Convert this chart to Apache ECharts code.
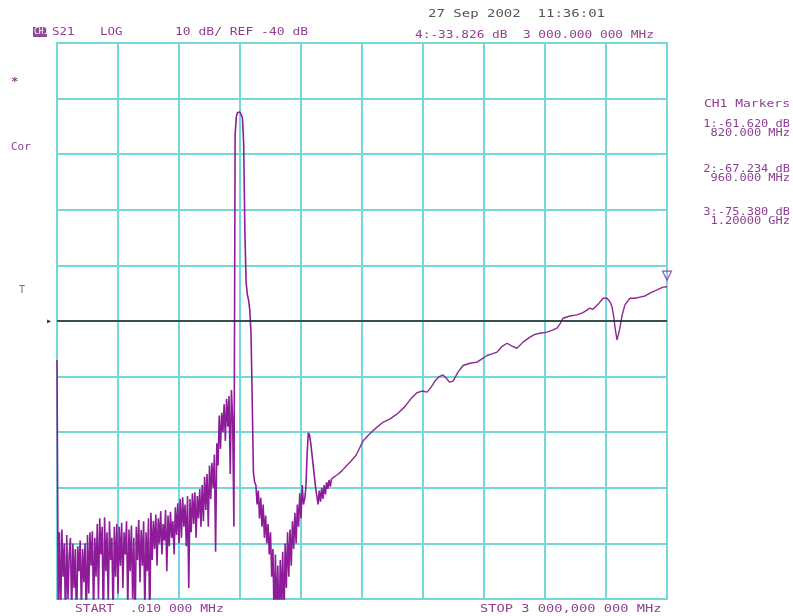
<!DOCTYPE html>
<html>
<head>
<meta charset="utf-8">
<script src="https://cdn.jsdelivr.net/npm/echarts@6/dist/echarts.min.js"></script>
<style>html,body{margin:0;padding:0;background:#fff;}#c{width:793px;height:616px;}</style>
</head>
<body>
<div id="c"></div>
<script>
// Swept trace S21 (LOG MAG), frequency in MHz, magnitude in dB
const freqNoise = [
  0.01,6,12,18,24,30,36,42,48,54,
  60,66,72,78,84,90,96,102,108,114,
  120,126,132,138,144,150,156,162,168,174,
  180,186,192,198,204,210,216,222,228,234,
  240,246,252,258,264,270,276,282,288,294,
  300,306,312,318,324,330,336,342,348,354,
  360,366,372,378,384,390,396,402,408,414,
  420,426,432,438,444,450,456,462,468,474,
  480,486,492,498,504,510,516,522,528,534,
  540,546,552,558,564,570,576,582,588,594,
  600,606,612,618,624,630,636,642,648,654,
  660,666,672,678,684,690,696,702,708,714,
  720,726,732,738,744,750,756,762,768,774,
  780,786,792,798,804,810,816,822,828,834,
  840,846,852,858,864,870,876,882,888,894,
  900,906,912,918,924,930,936,942,948,954,
  960,966,972,978,984,990,996,1002,1008,1014,
  1020,1026,1032,1038,1044,1050,1056,1062,1068,1074,
  1080,1086,1092,1098,1104,1110,1116,1122,1128,1134,
  1140,1146,1152,1158,1164,1170,1176,1182,1188,1194,
  1200,1206,1212,1218,1224,1230,1236,1242,1248,1254,
  1260,1266,1272,1278,1284,1290,1296,1302,1308,1314,
  1320,1326,1332,1338,1344,1350
];
const dbNoise = [
  -47,-92,-78,-94,-77.5,-86,-80,-95,-78.5,-90,
  -82,-79,-93,-80,-88,-81,-96,-80.5,-85,-79.5,
  -92,-81,-87,-80,-95,-78.5,-89,-78,-84,-77.8,
  -93,-79,-86,-76.5,-90,-75.5,-82,-77,-96,-75.3,
  -85,-78,-91,-76,-83,-79,-94,-77,-86,-76.5,
  -89,-77,-84,-76.3,-88,-78,-82,-76,-92,-77.5,
  -85,-76.8,-90,-79,-96,-77,-83,-75.8,-87,-77.6,
  -84,-76,-93,-78,-85,-75.5,-96,-74.5,-83,-76,
  -81,-74.8,-84,-75.5,-80,-74.2,-82,-76.5,-79.5,-74,
  -85,-75,-80.5,-74.3,-79,-76,-82,-73.5,-78.5,-72.8,
  -80,-72,-79,-71.7,-77,-73,-80.5,-71.5,-88,-72,
  -78,-71,-76.5,-70.8,-79,-71.5,-75.5,-70.2,-77,-69.5,
  -76,-68,-74,-67.5,-77,-66,-72,-65.5,-70,-64,
  -81.5,-62,-66,-57,-63,-56.5,-60,-55,-61.6,-54,
  -59,-53.5,-67.5,-52.4,-58,-77,-6.5,-3.2,-2.5,-2.3,
  -2.4,-2.6,-3.5,-8,-24,-33,-35.2,-36.2,-38,-42,
  -54,-67.2,-69,-69.5,-73,-70.5,-75.5,-71.8,-77,-73,
  -79,-75,-80,-76.5,-82,-78,-86,-81,-95,-82,
  -93,-84,-96,-83,-91,-81.5,-95,-80,-88,-78,
  -86,-77.5,-84,-76,-81,-74.5,-80,-73,-77,-71,
  -75.5,-69.5,-73,-72,-70,-64,-60.1,-60.5,-62,-64,
  -66,-68,-70,-71.5,-73,-70.5,-72.5,-70,-72,-69.5,
  -71.2,-69,-70.2,-68.6,-69.8,-68.4
];
const freqSmooth = [
  1350,1357,1380,1400,1425,1441,1470,1505,1530,1564,1600,
  1638,1670,1711,1740,1770,1795,1820,1840,1859,1880,
  1898,1915,1930,1948,1972,1997,2031,2066,2090,2115,
  2140,2164,2188,2213,2238,2262,2292,2326,2350,2375,
  2410,2440,2459,2474,2488,2523,2557,2587,2621,2636,
  2661,2685,2705,2720,2730,2739,2744,2754,2764,2769,
  2779,2793,2818,2843,2867,2892,2916,2951,2980,3000
];
const dbSmooth = [
  -68.4,-68.6,-67.6,-67.0,-66.0,-65.4,-64.2,-61.6,-60.6,-59.4,-58.3,
  -57.6,-56.8,-55.4,-54.0,-52.9,-52.6,-52.8,-51.9,-50.8,-50.0,
  -49.7,-50.3,-51.0,-50.8,-49.2,-48.0,-47.6,-47.4,-46.8,-46.2,
  -45.9,-45.6,-44.6,-44.0,-44.5,-44.9,-43.8,-42.9,-42.4,-42.2,
  -42.0,-41.6,-41.3,-40.5,-39.5,-39.1,-38.9,-38.5,-37.7,-37.9,
  -37.0,-35.9,-35.9,-36.6,-37.5,-39.5,-41.1,-43.4,-42.0,-41.1,
  -39.0,-37.1,-35.9,-35.9,-35.7,-35.5,-35.0,-34.4,-33.9,-33.83
];
const activeMarker = [[3000, -33.83]];
const refLevel = -40;
const xMin = 0, xMax = 3000, xStep = 300;
const yMin = -90, yMax = 10, yStep = 10;

const noiseTrace = freqNoise.map((f, i) => [f, dbNoise[i]]);
const smoothTrace = freqSmooth.map((f, i) => [f, dbSmooth[i]]);

const purple = '#8e1c98';
const txtPurple = '#8f3f93';
const cyan = '#74d8d8';
const mono = '"DejaVu Sans Mono", monospace';

function t(text, x, y, opt) {
  opt = opt || {};
  return {
    type: 'text', x: x, y: y, scaleX: opt.sx || 1.25, silent: true,
    style: {
      text: text, fill: opt.fill || txtPurple,
      font: (opt.fw || 'normal') + ' ' + (opt.fs || 10) + 'px ' + mono,
      textAlign: opt.align || 'left', textVerticalAlign: 'middle'
    }
  };
}

const chart = echarts.init(document.getElementById('c'), null, {renderer: 'canvas'});
chart.setOption({
  animation: false,
  backgroundColor: '#ffffff',
  grid: {left: 57, right: 126, top: 43, bottom: 17, show: true,
         borderColor: cyan, borderWidth: 2, backgroundColor: '#ffffff'},
  xAxis: {type: 'value', min: xMin, max: xMax, interval: xStep,
          axisLabel: {show: false}, axisTick: {show: false}, axisLine: {show: false},
          splitLine: {show: true, lineStyle: {color: cyan, width: 2}}},
  yAxis: {type: 'value', min: yMin, max: yMax, interval: yStep,
          axisLabel: {show: false}, axisTick: {show: false}, axisLine: {show: false},
          splitLine: {show: true, lineStyle: {color: cyan, width: 2}}},
  series: [
    {type: 'line', data: noiseTrace, showSymbol: false, clip: true,
     lineStyle: {color: purple, width: 1.6}, itemStyle: {color: purple},
     markLine: {silent: true, symbol: 'none', label: {show: false},
                lineStyle: {color: '#222', width: 1.5, type: 'solid'},
                data: [{yAxis: refLevel}]},
     z: 3},
    {type: 'line', data: smoothTrace, showSymbol: false, clip: true,
     lineStyle: {color: '#8a2a92', width: 1.4}, itemStyle: {color: purple}, z: 3},
    {type: 'scatter', data: activeMarker, symbol: 'triangle', symbolRotate: 180,
     symbolSize: [9, 9], symbolOffset: [0, -11], clip: false,
     itemStyle: {color: 'rgba(255,255,255,0)', borderColor: purple, borderWidth: 1.2}, z: 4}
  ],
  graphic: [
    {type: 'rect', shape: {x: 33, y: 27, width: 14, height: 10}, style: {fill: '#8e4a98'}, silent: true},
    t('CH1', 34, 32, {fill: '#ffffff', fs: 8, sx: 1.0}),
    t('S21', 52, 32),
    t('LOG', 100, 32),
    t('10 dB/ REF -40 dB', 175, 32, {sx: 1.3}),
    t('27 Sep 2002  11:36:01', 428, 14, {fill: '#555', sx: 1.4}),
    t('4:-33.826 dB  3 000.000 000 MHz', 415, 35, {sx: 1.28}),
    t('*', 11, 82, {fw: 'bold'}),
    t('Cor', 11, 147, {sx: 1.1}),
    t('T', 19, 290, {fill: '#777', sx: 1.0}),
    t('\u25B8', 46, 321, {fill: '#333', sx: 1.0}),
    t('CH1 Markers', 790, 104, {align: 'right', sx: 1.3}),
    t('1:-61.620 dB', 790, 124, {align: 'right', sx: 1.2}),
    t('820.000 MHz', 790, 133, {align: 'right', sx: 1.2}),
    t('2:-67.234 dB', 790, 169, {align: 'right', sx: 1.2}),
    t('960.000 MHz', 790, 178, {align: 'right', sx: 1.2}),
    t('3:-75.380 dB', 790, 212, {align: 'right', sx: 1.2}),
    t('1.20000 GHz', 790, 221, {align: 'right', sx: 1.2}),
    t('START  .010 000 MHz', 75, 609, {sx: 1.3}),
    t('STOP 3 000,000 000 MHz', 480, 609, {sx: 1.37})
  ]
});
</script>
</body>
</html>
